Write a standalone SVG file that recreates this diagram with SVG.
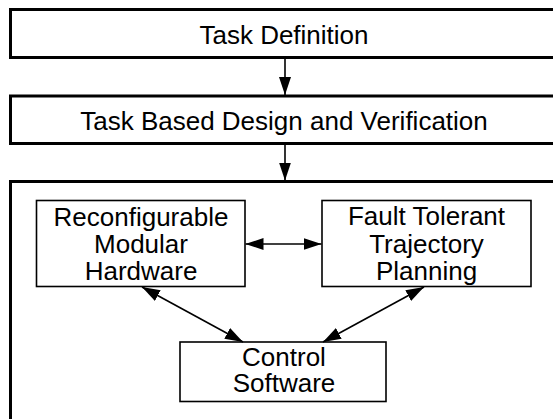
<svg xmlns="http://www.w3.org/2000/svg" width="553" height="419" viewBox="0 0 553 419">
<defs>
<style>
.outer{fill:#fff;stroke:#000;stroke-width:3}
.inner{fill:#fff;stroke:#000;stroke-width:1.6}
.lbl{font-family:"Liberation Sans",Arial,sans-serif;font-size:26px;fill:#000;text-anchor:middle}
.conn{stroke:#000;stroke-width:1.6;fill:none}
</style>
<marker id="ah" markerWidth="18" markerHeight="12" refX="18" refY="6" orient="auto-start-reverse" markerUnits="userSpaceOnUse">
<path d="M0,0 L18,6 L0,12 z" fill="#000"/>
</marker>
</defs>
<rect width="553" height="419" fill="#fff"/>
<g id="task-definition">
<rect class="outer" x="10.5" y="9.5" width="560" height="48"/>
<text class="lbl" x="284" y="44">Task Definition</text>
</g>
<g id="task-based-design">
<rect class="outer" x="10.5" y="96" width="560" height="47.5"/>
<text class="lbl" x="284" y="130">Task Based Design and Verification</text>
</g>
<g id="system">
<rect class="outer" x="10.5" y="181.5" width="560" height="260"/>
</g>
<g id="hardware">
<rect class="inner" x="36.5" y="200.5" width="208.5" height="86"/>
<text class="lbl" x="141" y="226">Reconfigurable</text>
<text class="lbl" x="141" y="253">Modular</text>
<text class="lbl" x="141" y="280">Hardware</text>
</g>
<g id="planning">
<rect class="inner" x="322" y="200.5" width="209" height="86"/>
<text class="lbl" x="426.5" y="225">Fault Tolerant</text>
<text class="lbl" x="426.5" y="252.5">Trajectory</text>
<text class="lbl" x="426.5" y="279.5">Planning</text>
</g>
<g id="control">
<rect class="inner" x="180" y="342" width="206" height="59.5"/>
<text class="lbl" x="284" y="366">Control</text>
<text class="lbl" x="284" y="392">Software</text>
</g>
<g id="connectors">
<line class="conn" x1="285" y1="57.5" x2="285" y2="95" marker-end="url(#ah)"/>
<line class="conn" x1="285" y1="143.5" x2="285" y2="180.5" marker-end="url(#ah)"/>
<line class="conn" x1="245.5" y1="244" x2="321.5" y2="244" marker-start="url(#ah)" marker-end="url(#ah)"/>
<line class="conn" x1="142" y1="287" x2="243" y2="342" marker-start="url(#ah)" marker-end="url(#ah)"/>
<line class="conn" x1="424" y1="287" x2="323" y2="342" marker-start="url(#ah)" marker-end="url(#ah)"/>
</g>
</svg>
